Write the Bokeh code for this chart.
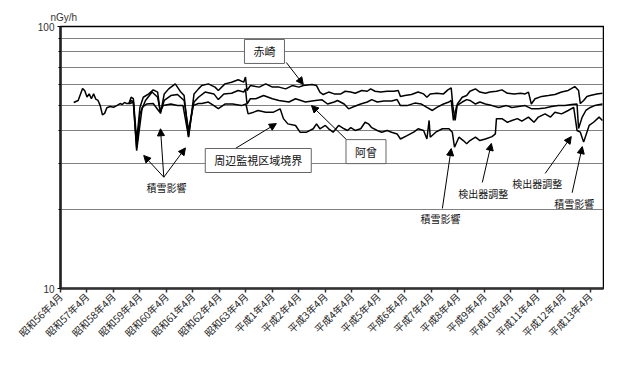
import math
from bokeh.plotting import figure
from bokeh.models import FixedTicker, Label, Arrow, NormalHead, Range1d, BasicTickFormatter
from bokeh.embed import file_html
from bokeh.resources import INLINE

# ---- tick labels (x = months since 昭和56年4月) ----
tick_months = [0, 12, 24, 36, 48, 60, 72, 84, 96, 108, 120, 132, 144, 156, 168, 180, 192, 204, 216, 228, 240]
tick_labels = ["昭和56年4月", "昭和57年4月", "昭和58年4月", "昭和59年4月", "昭和60年4月", "昭和61年4月",
               "昭和62年4月", "昭和63年4月", "平成1年4月", "平成2年4月", "平成3年4月", "平成4年4月",
               "平成5年4月", "平成6年4月", "平成7年4月", "平成8年4月", "平成9年4月", "平成10年4月",
               "平成11年4月", "平成12年4月", "平成13年4月"]

# ---- 周辺監視区域境界 (nGy/h) ----
boundary_m = [6, 8, 10, 11, 12, 13, 14, 15, 16, 17,
              18, 19, 20, 21, 22.5, 24, 25.5, 27, 28, 29,
              30, 31.5, 33, 34.5, 37, 39, 42, 45, 46.5, 50,
              53, 55.5, 58, 60, 62.5, 64, 67, 69.5, 71.5, 74.5,
              78, 82, 84, 85, 87.5, 89.5, 93, 96.5, 99.5, 101,
              103, 106.5, 108.5, 111.5, 114.5, 116, 117.5, 120, 121.5, 123.5,
              126, 128.5, 130, 131.5, 133.5, 136, 138, 139.5, 141, 143.5,
              145.5, 148, 150, 152.5, 154, 157, 160, 162, 164.5, 166,
              167, 167.5, 170, 173, 176, 177.5, 178.5, 180.5, 182.5, 184,
              185.5, 188, 190, 192.5, 195.5, 197, 197.5, 200, 202.5, 204.5,
              207, 209, 212, 214.5, 216.5, 219.5, 222, 224, 227, 230,
              232.5, 234, 235.5, 237, 239.5, 241.5, 244, 245.5]
boundary_v = [51.3, 52.2, 58.0, 56.8, 53.8, 55.3, 53.0, 55.3, 52.8, 52.2,
              49.9, 46.0, 46.6, 49.0, 49.5, 49.2, 49.9, 50.8, 50.4, 51.3,
              50.8, 50.8, 51.5, 33.6, 49.1, 50.6, 50.8, 47.1, 49.9, 50.6,
              49.9, 49.9, 38.0, 49.9, 50.8, 50.8, 51.5, 49.9, 48.6, 50.6,
              50.6, 49.9, 50.6, 46.4, 47.1, 47.8, 47.1, 47.1, 48.5, 44.5,
              42.5, 41.9, 39.5, 39.5, 40.7, 42.5, 40.7, 41.9, 40.7, 39.5,
              41.9, 40.7, 40.1, 41.1, 40.1, 40.7, 43.1, 42.5, 41.1, 40.1,
              39.5, 40.1, 39.5, 38.9, 37.2, 38.3, 39.5, 40.7, 40.1, 37.2,
              43.8, 37.8, 39.5, 40.7, 40.7, 39.5, 34.6, 37.8, 36.7, 35.7,
              36.7, 37.8, 36.7, 37.2, 38.0, 38.9, 44.5, 44.5, 43.1, 43.8,
              44.5, 43.5, 45.1, 43.1, 45.1, 46.4, 45.1, 47.1, 46.4, 47.8,
              49.1, 40.1, 39.5, 36.2, 41.9, 43.1, 45.1, 43.8]

# ---- 赤崎 (nGy/h) ----
akasaki_m = [31, 32, 33, 34.5, 36, 37.5, 40, 42, 44, 45.3,
             47, 49, 52, 54.5, 56, 58, 60.5, 62.5, 64, 67,
             70, 71.5, 74.5, 77.5, 80.5, 83, 83.8, 84.5, 86, 90,
             93, 96, 99, 102, 105, 108, 110, 114, 116, 117.5,
             119, 121.5, 124, 127, 129, 131.5, 133.5, 136.5, 139, 140.5,
             142.5, 145, 148, 151, 153, 154, 156, 159, 162, 164.5,
             166, 167.5, 170.5, 173.5, 175.5, 177, 177.8, 178.8, 179.8, 182,
             184, 185.5, 188, 190, 192.5, 194.5, 197.5, 200, 202.5, 205.5,
             208.5, 210.5, 212, 213.3, 215, 218, 221, 224, 227, 230,
             233, 234.7, 235.5, 237, 238.5, 240, 243, 245.5]
akasaki_v = [50.8, 53.7, 53.1, 36.7, 49.2, 53.7, 55.3, 57.3, 56.2, 46.5,
             55.3, 57.8, 60.4, 56.2, 54.5, 37.8, 55.3, 57.8, 59.5, 60.4,
             58.7, 57.0, 60.4, 61.3, 62.6, 61.3, 64.1, 57.0, 59.5, 58.7,
             60.4, 58.7, 58.7, 57.8, 59.5, 58.7, 59.5, 60.1, 59.5, 56.2,
             55.0, 56.2, 55.3, 55.3, 56.6, 56.2, 55.6, 57.0, 56.6, 57.8,
             56.6, 56.2, 56.6, 56.6, 57.0, 54.1, 54.5, 55.0, 56.2, 55.3,
             53.7, 55.3, 55.6, 55.3, 57.3, 58.3, 49.2, 43.8, 50.6, 53.7,
             54.5, 56.6, 57.8, 56.2, 55.6, 56.2, 56.6, 57.3, 55.6, 55.3,
             55.6, 55.3, 56.2, 50.6, 53.0, 54.1, 54.5, 55.0, 56.2, 57.0,
             59.0, 57.0, 50.8, 52.2, 54.1, 54.5, 55.3, 55.6]

# ---- 阿曾 (nGy/h) ----
aso_m = [31, 32, 33, 34.5, 36, 38.5, 41.5, 44, 45.3, 47,
         50, 53, 56, 58, 60.5, 62.5, 65.5, 69.5, 71.5, 74,
         77.5, 80.5, 83, 83.8, 84.5, 86, 88.5, 92, 96, 99,
         103.5, 106.5, 111, 115.5, 118.5, 121, 124, 125.5, 128.5, 130.5,
         133, 136, 139, 141, 143.5, 146.5, 150, 152.5, 154, 157,
         160.5, 163.5, 166, 168.5, 170.5, 173.5, 176, 177, 178, 179.5,
         182, 184, 185.5, 188, 190, 192.5, 195.5, 198.5, 202, 204.5,
         207.5, 210.5, 213.5, 216.5, 219.5, 222.5, 225.5, 228.5, 231.5, 234,
         234.7, 236.3, 238, 240, 242, 245.5]
aso_v = [50.8, 52.2, 51.7, 34.5, 46.4, 52.2, 56.2, 53.7, 47.1, 52.2,
         54.5, 55.0, 52.2, 40.1, 51.5, 53.7, 56.2, 55.3, 52.6, 55.3,
         55.6, 57.0, 56.2, 57.8, 50.6, 53.0, 53.0, 54.5, 53.0, 52.2,
         51.5, 53.0, 51.5, 52.2, 52.5, 50.6, 51.5, 52.2, 50.6, 48.5,
         49.5, 50.6, 51.5, 52.6, 51.5, 52.0, 52.0, 52.6, 49.9, 49.9,
         51.0, 50.6, 49.1, 47.8, 49.1, 50.6, 51.5, 52.2, 43.8, 49.9,
         51.5, 52.6, 52.2, 50.6, 51.5, 50.6, 49.9, 49.1, 49.9, 49.1,
         49.5, 49.9, 48.5, 48.5, 48.9, 49.5, 49.9, 49.9, 50.4, 50.6,
         40.8, 45.0, 47.8, 49.1, 49.9, 50.6]

JP = "Noto Sans CJK JP"

p = figure(width=604, height=376, y_axis_type="log",
           x_range=Range1d(0, 246), y_range=Range1d(10, 100),
           output_backend="svg", toolbar_location=None,
           min_border_left=60, min_border_right=1, min_border_top=26, min_border_bottom=88)
p.background_fill_color = "white"
p.border_fill_color = "white"
p.outline_line_color = "black"
p.outline_line_width = 1.5

# unit label above the plot
p.title.text = "nGy/h"
p.title.align = "left"
p.title.offset = -10
p.title.standoff = 7
p.title.text_font = "Liberation Sans"
p.title.text_font_size = "10px"
p.title.text_font_style = "normal"
p.title.text_color = "#333"

yt = FixedTicker(ticks=[10, 100], minor_ticks=[20, 30, 40, 50, 60, 70, 80, 90])
p.yaxis.ticker = yt
p.ygrid.ticker = yt
p.yaxis.formatter = BasicTickFormatter()
p.yaxis.major_label_overrides = {10: "10", 100: "100"}
p.yaxis.axis_line_color = "#222"
p.yaxis.axis_line_width = 2.5
p.yaxis.major_tick_out = 3
p.yaxis.major_tick_in = 0
p.yaxis.minor_tick_out = 2
p.yaxis.minor_tick_in = 0
p.yaxis.major_label_text_font = "Liberation Sans"
p.yaxis.major_label_text_font_size = "10px"
p.yaxis.major_label_text_color = "#333"
p.yaxis.major_label_standoff = 3

xt = FixedTicker(ticks=tick_months, minor_ticks=[])
p.xaxis.ticker = xt
p.xgrid.visible = False
p.xaxis.major_label_overrides = dict(zip(tick_months, tick_labels))
p.xaxis.major_label_orientation = math.pi / 4
p.xaxis.major_label_text_font = JP
p.xaxis.major_label_text_font_size = "10px"
p.xaxis.major_label_text_color = "#222"
p.xaxis.axis_line_color = "#333"
p.xaxis.axis_line_width = 2.5
p.xaxis.major_tick_out = 4
p.xaxis.major_tick_in = 0
p.xaxis.major_tick_line_width = 1.5
p.xaxis.major_tick_line_color = "#333"
p.xaxis.major_label_standoff = 2

p.ygrid.grid_line_color = None
p.ygrid.minor_grid_line_color = "#808080"
p.ygrid.minor_grid_line_width = 1.2

for xs, ys in [(boundary_m, boundary_v), (aso_m, aso_v), (akasaki_m, akasaki_v)]:
    p.line(xs, ys, line_color="black", line_width=1.5)

def arrow(x0, y0, x1, y1):
    p.add_layout(Arrow(end=NormalHead(size=7, fill_color="black", line_color="black", line_width=1),
                       x_start=x0, y_start=y0, x_end=x1, y_end=y1,
                       line_color="black", line_width=1))

def text(x, y, s, size="10px"):
    p.add_layout(Label(x=x, y=y, text=s, text_font=JP, text_font_size=size,
                       text_color="#111", text_align="center", text_baseline="middle"))

def box(x, y, s):
    p.add_layout(Label(x=x, y=y, text=s, text_font=JP, text_font_size="11px",
                       text_color="#111", text_align="center", text_baseline="middle",
                       background_fill_color="white", border_line_color="#666",
                       border_line_width=1, padding=(9, 4)))

# leader arrows
arrow(102.3, 72.9, 110.0, 60.1)      # 赤崎
arrow(75.6, 32.8, 97.8, 42.6)        # 周辺監視区域境界
arrow(131.3, 35.8, 113.7, 49.9)      # 阿曾
arrow(46.8, 26.6, 37.7, 32.2)        # 積雪影響 (left)
arrow(46.8, 26.6, 45.3, 40.7)
arrow(46.8, 26.6, 56.6, 34.4)
arrow(173.0, 20.2, 177.0, 34.2)      # 積雪影響 (middle)
arrow(191.1, 25.4, 195.2, 35.8)      # 検出器調整 (middle)
arrow(219.6, 27.5, 231.4, 38.0)      # 検出器調整 (right)
arrow(231.8, 23.2, 236.4, 34.8)      # 積雪影響 (right)

box(92.4, 80.3, "赤崎")
box(89.6, 30.8, "周辺監視区域境界")
box(138.4, 33.3, "阿曾")

text(48.0, 24.3, "積雪影響")
text(172.1, 18.5, "積雪影響")
text(191.5, 23.0, "検出器調整")
text(216.0, 25.2, "検出器調整")
text(232.7, 21.1, "積雪影響")

open("out.html", "w").write(file_html(p, INLINE))
